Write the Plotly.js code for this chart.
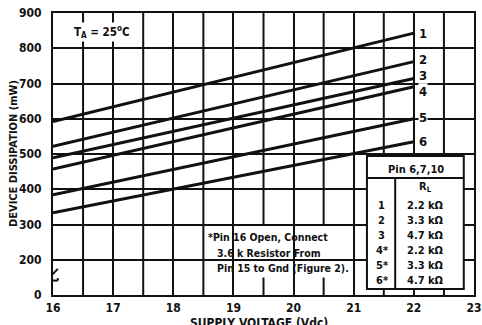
<!DOCTYPE html>
<html>
<head>
<meta charset="utf-8">
<script src="https://cdn.plot.ly/plotly-3.0.1.min.js"></script>
<style>html,body{margin:0;padding:0;background:#fff;}#chart{width:482px;height:325px;}</style>
</head>
<body>
<div id="chart"></div>
<script>
// ---- data ----
const supplyVoltage = [16, 22];
const curve1 = [592, 843];
const curve2 = [522, 762];
const curve3 = [489, 714];
const curve4 = [457, 691];
const curve5 = [384, 600];
const curve6 = [333, 535];
const curveNames = ['1', '2', '3', '4', '5', '6'];
const xTickVals = [16, 17, 18, 19, 20, 21, 22, 23];
const xTickLabels = ['16', '17', '18', '19', '20', '21', '22', '23'];
const xHalfVals = [16.5, 17.5, 18.5, 19.5, 20.5, 21.5, 22.5];
const yTickVals = [100, 200, 300, 400, 500, 600, 700, 800, 900];
const yTickLabels = ['0', '200', '300', '400', '500', '600', '700', '800', '900'];
const tableCurve = ['1', '2', '3', '4*', '5*', '6*'];
const tableRL = ['2.2 kΩ', '3.3 kΩ', '4.7 kΩ', '2.2 kΩ', '3.3 kΩ', '4.7 kΩ'];
const noteLines = ['*Pin 16 Open, Connect', '3.6 k Resistor From', 'Pin 15 to Gnd (Figure 2).'];

// ---- style ----
const F = "'Liberation Sans Narrow', 'DejaVu Sans Condensed', 'Arial Narrow', sans-serif";
const K = '#111';
const labelYShift = [0, 2, 3, -5, 1, 0];
const curves = [curve1, curve2, curve3, curve4, curve5, curve6];
const font = (s) => ({family: F, size: s, color: K, weight: 'bold'});

const traces = curves.map((c, i) => ({
  x: supplyVoltage, y: c, mode: 'lines', type: 'scatter',
  line: {color: K, width: 3}, hoverinfo: 'skip', showlegend: false, name: curveNames[i]
}));

const annotations = [];
curves.forEach((c, i) => {
  annotations.push({
    x: supplyVoltage[supplyVoltage.length - 1], y: c[c.length - 1], xref: 'x', yref: 'y',
    text: curveNames[i], showarrow: false, xanchor: 'left', yanchor: 'middle',
    xshift: 4, yshift: labelYShift[i], bgcolor: '#fff', borderpad: 0, font: font(13)
  });
});
// T_A annotation
annotations.push({x: 16.32, y: 846, xref: 'x', yref: 'y', xanchor: 'left', yanchor: 'middle',
  text: 'T<sub>A</sub> = 25<sup>o</sup>C', showarrow: false, bgcolor: '#fff', borderpad: 1, font: font(11.5)});
// note
noteLines.forEach((t, i) => {
  annotations.push({x: 18.5, y: 264, xref: 'x', yref: 'y', xanchor: 'left', yanchor: 'middle',
    xshift: i === 0 ? 3 : 12, yshift: -i * 15.5, text: t, showarrow: false, font: font(10.5)});
});
// table
annotations.push({x: 22.03, y: 455, xref: 'x', yref: 'y', xanchor: 'center', yanchor: 'middle',
  text: 'Pin 6,7,10', showarrow: false, font: font(11)});
annotations.push({x: 22.19, y: 406, xref: 'x', yref: 'y', xanchor: 'center', yanchor: 'middle',
  text: 'R<sub>L</sub>', showarrow: false, font: font(11)});
tableCurve.forEach((t, i) => {
  annotations.push({x: 21.47, y: 355, xref: 'x', yref: 'y', xanchor: 'center', yanchor: 'middle',
    yshift: -i * 15, text: t, showarrow: false, font: font(11)});
  annotations.push({x: 22.19, y: 355, xref: 'x', yref: 'y', xanchor: 'center', yanchor: 'middle',
    yshift: -i * 15, text: tableRL[i], showarrow: false, font: font(11)});
});
// axis titles
annotations.push({x: 0.49, y: -0.1, xref: 'paper', yref: 'paper', xanchor: 'center', yanchor: 'middle',
  text: 'SUPPLY VOLTAGE (Vdc)', showarrow: false, font: font(12)});
annotations.push({x: -0.095, y: 0.5, xref: 'paper', yref: 'paper', xanchor: 'center', yanchor: 'middle',
  textangle: -90, text: 'DEVICE DISSIPATION (mW)', showarrow: false, font: font(11)});

// half-volt grid lines (drawn as shapes in data coords, above grid, below traces)
const yLo = yTickVals[0], yHi = yTickVals[yTickVals.length - 1];
const shapes = xHalfVals.map(v => ({type: 'line', xref: 'x', yref: 'y', x0: v, x1: v, y0: yLo, y1: yHi,
  line: {color: K, width: 2}, layer: 'below'}));

shapes.push(
  // note box (white)
  {type: 'rect', xref: 'x', yref: 'y', x0: 18.53, x1: 20.97, y0: 150, y1: 300,
   fillcolor: '#fff', line: {width: 0}, layer: 'below'},
  // table box
  {type: 'rect', xref: 'x', yref: 'y', x0: 21.22, x1: 22.83, y0: 117, y1: 494,
   fillcolor: '#fff', line: {color: K, width: 2}, layer: 'above'},
  {type: 'line', xref: 'x', yref: 'y', x0: 21.22, x1: 22.83, y0: 432, y1: 432,
   line: {color: K, width: 2}, layer: 'above'},
  {type: 'line', xref: 'x', yref: 'y', x0: 21.69, x1: 21.69, y0: 117, y1: 432,
   line: {color: K, width: 2}, layer: 'above'},
  // axis break: white gap
  {type: 'rect', xref: 'x', yref: 'y', x0: 15.95, x1: 16.05, y0: 143, y1: 158,
   fillcolor: '#fff', line: {width: 0}, layer: 'above'},
  // chevron pointing down
  {type: 'path', xref: 'x', yref: 'y', path: 'M15.92,174 L16,160 L16.08,174',
   line: {color: K, width: 2}, layer: 'above'},
  // T bar
  {type: 'line', xref: 'x', yref: 'y', x0: 15.92, x1: 16.08, y0: 141, y1: 141,
   line: {color: K, width: 2}, layer: 'above'},
  {type: 'line', xref: 'x', yref: 'y', x0: 15.92, x1: 15.92, y0: 141, y1: 148,
   line: {color: K, width: 2}, layer: 'above'},
  {type: 'line', xref: 'x', yref: 'y', x0: 16.08, x1: 16.08, y0: 141, y1: 148,
   line: {color: K, width: 2}, layer: 'above'}
);

const layout = {
  width: 482, height: 325,
  margin: {l: 53, r: 8, t: 13, b: 30, pad: 0},
  paper_bgcolor: '#fff', plot_bgcolor: '#fff',
  showlegend: false,
  xaxis: {range: [16, 23], tickmode: 'array', tickvals: xTickVals, ticktext: xTickLabels,
    showgrid: true, gridcolor: K, gridwidth: 2, zeroline: false,
    showline: true, mirror: true, linecolor: K, linewidth: 2, ticks: '',
    ticklabelstandoff: 1, tickfont: font(12), fixedrange: true},
  yaxis: {range: [100, 900], tickmode: 'array', tickvals: yTickVals, ticktext: yTickLabels,
    showgrid: true, gridcolor: K, gridwidth: 2, zeroline: false,
    showline: true, mirror: true, linecolor: K, linewidth: 2, ticks: '',
    ticklabelstandoff: 7, tickfont: font(12), fixedrange: true},
  annotations: annotations,
  shapes: shapes
};

Plotly.newPlot('chart', traces, layout, {staticPlot: true, displayModeBar: false});
</script>
</body>
</html>
